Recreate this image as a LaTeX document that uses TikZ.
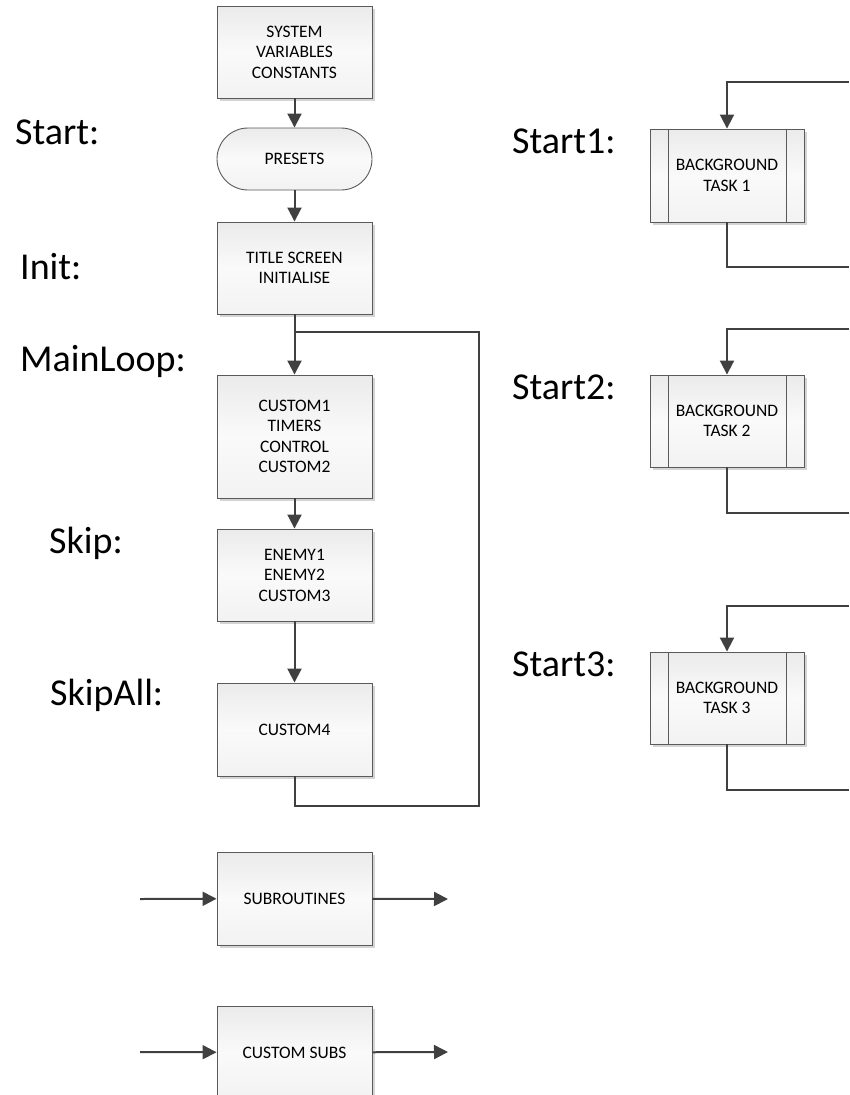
\documentclass[tikz,border=0pt]{standalone}
\usepackage{fontspec}
\setmainfont{Carlito}
\usetikzlibrary{shadows,arrows.meta}

\definecolor{linegray}{HTML}{404040}
\definecolor{boxedge}{HTML}{5A5A5A}
\definecolor{shadowgray}{HTML}{D4D4D4}

\tikzset{
  plainbox/.style={draw=boxedge, line width=0.9pt, top color=white!92!black,
    bottom color=white!95!black, middle color=white!98!black,
    minimum width=155pt, minimum height=92pt, inner sep=2pt, align=center,
    font=\fontsize{17.5}{20.5}\selectfont},
  box/.style={plainbox,
    drop shadow={shadow xshift=3pt, shadow yshift=-3pt, fill=shadowgray, opacity=1}},
  terminal/.style={plainbox, rounded corners=31pt, minimum height=62pt},
  process/.style={box, minimum width=154pt},
  label/.style={anchor=base west, inner sep=0pt, font=\fontsize{38}{44}\selectfont},
  flow/.style={draw=linegray, line width=2pt},
  arr/.style={flow, -{Triangle[length=14pt, width=14pt]}},
}

\begin{document}
\begin{tikzpicture}[x=1pt, y=-1pt]
\useasboundingbox (0,0) rectangle (849,1095);

% main program column
\node[box] (sys) at (294.5,52) {SYSTEM\\VARIABLES\\CONSTANTS};
\node[terminal] (pre) at (294.5,159) {PRESETS};
\node[box] (title) at (294.5,268) {TITLE SCREEN\\INITIALISE};
\node[box, minimum height=123pt] (cus1) at (294.5,436.5) {CUSTOM1\\TIMERS\\CONTROL\\CUSTOM2};
\node[box] (enemy) at (294.5,575) {ENEMY1\\ENEMY2\\CUSTOM3};
\node[box, minimum height=93pt] (c4) at (294.5,729.5) {CUSTOM4};

% subroutine blocks
\node[box, minimum height=93pt] (sub) at (294.5,898.5) {SUBROUTINES};
\node[box, minimum height=93pt] (csub) at (294.5,1052.5) {CUSTOM SUBS};

% background tasks
\node[process, minimum height=93pt] (t1) at (727,175.5) {BACKGROUND\\TASK 1};
\node[process] (t2) at (727,421) {BACKGROUND\\TASK 2};
\node[process] (t3) at (727,698) {BACKGROUND\\TASK 3};
\foreach \t in {t1,t2,t3} {
  \draw[boxedge, line width=0.9pt] ([xshift=19pt]\t.north west) -- ([xshift=19pt]\t.south west);
  \draw[boxedge, line width=0.9pt] ([xshift=-18pt]\t.north east) -- ([xshift=-18pt]\t.south east);
}

% labels
\node[label] (lstart) at (15,144) {Start:};
\node[label] (linit) at (20,279) {Init:};
\node[label] (lmain) at (20,371) {MainLoop:};
\node[label] (lskip) at (49,553) {Skip:};
\node[label] (lskipall) at (50,705) {SkipAll:};
\node[label] (ls1) at (512,153) {Start1:};
\node[label] (ls2) at (512,399) {Start2:};
\node[label] (ls3) at (512,676) {Start3:};

% main flow
\draw[arr] (sys) -- (pre);
\draw[arr] (pre) -- (title);
\draw[arr] (title) -- (cus1);
\draw[arr] (cus1) -- (enemy);
\draw[arr] (enemy) -- (c4);

% main loop return path
\coordinate (join) at (294.5,332);
\coordinate (loopbl) at (294.5,806);
\coordinate (looptr) at (479,332);
\draw[flow] (c4.south) -- (loopbl) -| (looptr) -- (join);

% subroutine entry and exit
\coordinate (subin) at (140,899);
\coordinate (subout) at (448,899);
\coordinate (csin) at (140,1052);
\coordinate (csout) at (448,1052);
\draw[arr] (subin) -- (sub);
\draw[arr] (sub) -- (subout);
\draw[arr] (csin) -- (csub);
\draw[arr] (csub) -- (csout);

% background task loops
\coordinate (t1a) at (849,82);  \coordinate (t1b) at (727,82);
\coordinate (t1c) at (727,267); \coordinate (t1d) at (849,267);
\coordinate (t2a) at (849,329); \coordinate (t2b) at (727,329);
\coordinate (t2c) at (727,513); \coordinate (t2d) at (849,513);
\coordinate (t3a) at (849,606); \coordinate (t3b) at (727,606);
\coordinate (t3c) at (727,790); \coordinate (t3d) at (849,790);
\foreach \t in {t1,t2,t3} {
  \draw[arr] (\t a) -- (\t b) -- (\t);
  \draw[flow] (\t.south) -- (\t c) -- (\t d);
}
\end{tikzpicture}
\end{document}
